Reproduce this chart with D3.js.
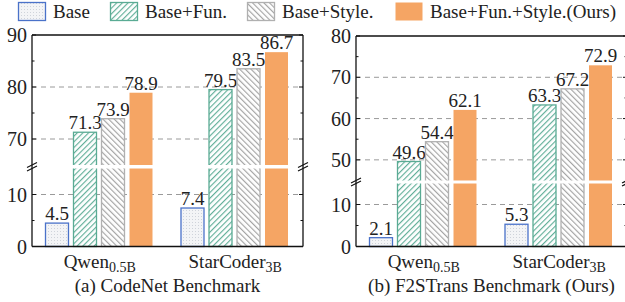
<!DOCTYPE html>
<html>
<head>
<meta charset="utf-8">
<script src="https://cdn.jsdelivr.net/npm/d3@7"></script>
<style>
body { margin: 0; background: #fff; }
text { font-family: "Liberation Serif", "Times New Roman", serif; fill: #222; }
</style>
</head>
<body>
<script>
// data
const models = ["Qwen", "StarCoder"]
const modelSubs = ["0.5B", "3B"]
const series = ["Base", "Base+Fun.", "Base+Style.", "Base+Fun.+Style.(Ours)"]
const codenetValues = [[4.5, 71.3, 73.9, 78.9], [7.4, 79.5, 83.5, 86.7]]
const f2sValues = [[2.1, 49.6, 54.4, 62.1], [5.3, 63.3, 67.2, 72.9]]
const codenetTicksUp = [70, 80, 90]
const codenetTicksLow = [0, 10]
const f2sTicksUp = [50, 60, 70, 80]
const f2sTicksLow = [0, 10]
const titles = ["(a) CodeNet Benchmark", "(b) F2STrans Benchmark (Ours)"]

var svg = d3.select("body").append("svg")
  .attr("width", 625)
  .attr("height", 302)

// patterns
var defs = svg.append("defs")
var dots = defs.append("pattern").attr("id", "dots")
  .attr("patternUnits", "userSpaceOnUse").attr("width", 3).attr("height", 3)
dots.append("rect").attr("width", 3).attr("height", 3).attr("fill", "#f3f4f6")
dots.append("rect").attr("width", 1).attr("height", 1).attr("fill", "#cfd3da")

function hatch(id, color, angle) {
  var p = defs.append("pattern").attr("id", id)
    .attr("patternUnits", "userSpaceOnUse").attr("width", 4).attr("height", 4)
    .attr("patternTransform", "rotate(" + angle + ")")
  p.append("rect").attr("width", 4).attr("height", 4).attr("fill", "#fff")
  p.append("line").attr("x1", 0.6).attr("y1", 0).attr("x2", 0.6).attr("y2", 4)
    .attr("stroke", color).attr("stroke-width", 1.1)
}
hatch("green", "#5aab94", 45)
hatch("gray", "#a0a0a0", -45)

const fills = ["url(#dots)", "url(#green)", "url(#gray)", "#f5a564"]
const strokes = ["#4a72c9", "#5aab94", "#b0b0b0", "none"]

// legend
const legX = [18, 110, 247, 395]
series.forEach(function (s, i) {
  svg.append("rect")
    .attr("x", legX[i] + 0.5).attr("y", 2.5).attr("width", 27).attr("height", 18)
    .attr("fill", fills[i]).attr("stroke", strokes[i]).attr("stroke-width", 1.3)
  svg.append("text")
    .attr("x", legX[i] + 35).attr("y", 18)
    .attr("font-size", 19).text(s)
})

function panel(cfg) {
  var g = svg.append("g")
  var x0 = cfg.x0, x1 = cfg.x1
  var yUp = d3.scaleLinear().domain(cfg.upDomain).range(cfg.upRange)
  var yLow = d3.scaleLinear().domain(cfg.lowDomain).range(cfg.lowRange)
  var gapTop = cfg.upRange[0], gapBot = cfg.lowRange[1]
  var y = function (v) { return v >= cfg.upDomain[0] ? yUp(v) : yLow(v) }

  var xg = d3.scaleBand().domain(models).range([x0, x1])
  var xs = d3.scaleBand().domain(series).range([13, 121]).paddingInner(4 / 28)

  // grid lines
  var grid = cfg.ticksUp.slice(0, -1).map(yUp).concat(cfg.ticksLow.slice(1).map(yLow))
  grid.forEach(function (gy) {
    g.append("line").attr("x1", x0).attr("x2", x1).attr("y1", gy).attr("y2", gy)
      .attr("stroke", "#9a9a9a").attr("stroke-width", 1).attr("stroke-dasharray", "5,4")
  })

  // bars
  models.forEach(function (m, mi) {
    cfg.values[mi].forEach(function (v, si) {
      var bx = xg(m) + xs(series[si])
      g.append("rect")
        .attr("x", bx + 0.5).attr("y", y(v))
        .attr("width", xs.bandwidth() - 1).attr("height", yLow(0) - y(v))
        .attr("fill", fills[si]).attr("stroke", strokes[si]).attr("stroke-width", 1.3)
      g.append("text")
        .attr("x", bx + xs.bandwidth() / 2).attr("y", y(v) - 3)
        .attr("text-anchor", "middle").attr("font-size", 19).text(v.toFixed(1))
    })
    var lbl = g.append("text")
      .attr("x", xg(m) + xg.bandwidth() / 2).attr("y", 268)
      .attr("text-anchor", "middle").attr("font-size", 19)
    lbl.append("tspan").text(m)
    lbl.append("tspan").attr("font-size", 14).attr("dy", 4).text(modelSubs[mi])
  })

  // white gap across the break
  g.append("rect").attr("x", x0 + 1).attr("width", x1 - x0 - 2)
    .attr("y", gapTop).attr("height", gapBot - gapTop).attr("fill", "#fff")

  // frame
  var top = cfg.upRange[1], bot = yLow(0)
  g.append("line").attr("x1", x0).attr("x2", x1).attr("y1", top).attr("y2", top).attr("stroke", "#111").attr("stroke-width", 1.3)
  g.append("line").attr("x1", x0).attr("x2", x1).attr("y1", bot).attr("y2", bot).attr("stroke", "#111").attr("stroke-width", 1.5)
  ;[x0, x1].forEach(function (ax) {
    g.append("line").attr("x1", ax).attr("x2", ax).attr("y1", top).attr("y2", bot)
      .attr("stroke", "#111").attr("stroke-width", 1.3)
    ;[gapTop, gapBot].forEach(function (by) {
      g.append("line").attr("x1", ax - 5).attr("x2", ax + 5).attr("y1", by + 2.5).attr("y2", by - 2.5)
        .attr("stroke", "#111").attr("stroke-width", 1.2)
    })
  })

  // ticks and labels
  var ticks = cfg.ticksUp.map(yUp).concat(cfg.ticksLow.map(yLow))
  var labels = cfg.ticksUp.concat(cfg.ticksLow)
  ticks.forEach(function (ty, i) {
    g.append("line").attr("x1", x0).attr("x2", x0 + 4).attr("y1", ty).attr("y2", ty).attr("stroke", "#111")
    g.append("line").attr("x1", x1).attr("x2", x1 - 4).attr("y1", ty).attr("y2", ty).attr("stroke", "#111")
    g.append("text").attr("x", x0 - 5).attr("y", ty + 7)
      .attr("text-anchor", "end").attr("font-size", 20).text(labels[i])
  })
  var minor = cfg.ticksUp.slice(0, -1).map(function (t) { return yUp(t + 5) })
    .concat([yLow(5)])
  if (cfg.ticksUp[0] - 5 > cfg.upDomain[0]) minor.push(yUp(cfg.ticksUp[0] - 5))
  minor.forEach(function (ty) {
    g.append("line").attr("x1", x0).attr("x2", x0 + 2.5).attr("y1", ty).attr("y2", ty).attr("stroke", "#111")
    g.append("line").attr("x1", x1).attr("x2", x1 - 2.5).attr("y1", ty).attr("y2", ty).attr("stroke", "#111")
  })

  g.append("text").attr("x", (x0 + x1) / 2).attr("y", 292)
    .attr("text-anchor", "middle").attr("font-size", 19).text(cfg.title)
}

panel({
  x0: 32, x1: 303, values: codenetValues, title: titles[0],
  upDomain: [65, 90], upRange: [165, 35], lowDomain: [0, 15], lowRange: [246.5, 168.5],
  ticksUp: codenetTicksUp, ticksLow: codenetTicksLow
})
panel({
  x0: 356, x1: 627, values: f2sValues, title: titles[1],
  upDomain: [45, 80], upRange: [180.5, 36], lowDomain: [0, 15], lowRange: [246.5, 183.5],
  ticksUp: f2sTicksUp, ticksLow: f2sTicksLow
})
</script>
</body>
</html>
